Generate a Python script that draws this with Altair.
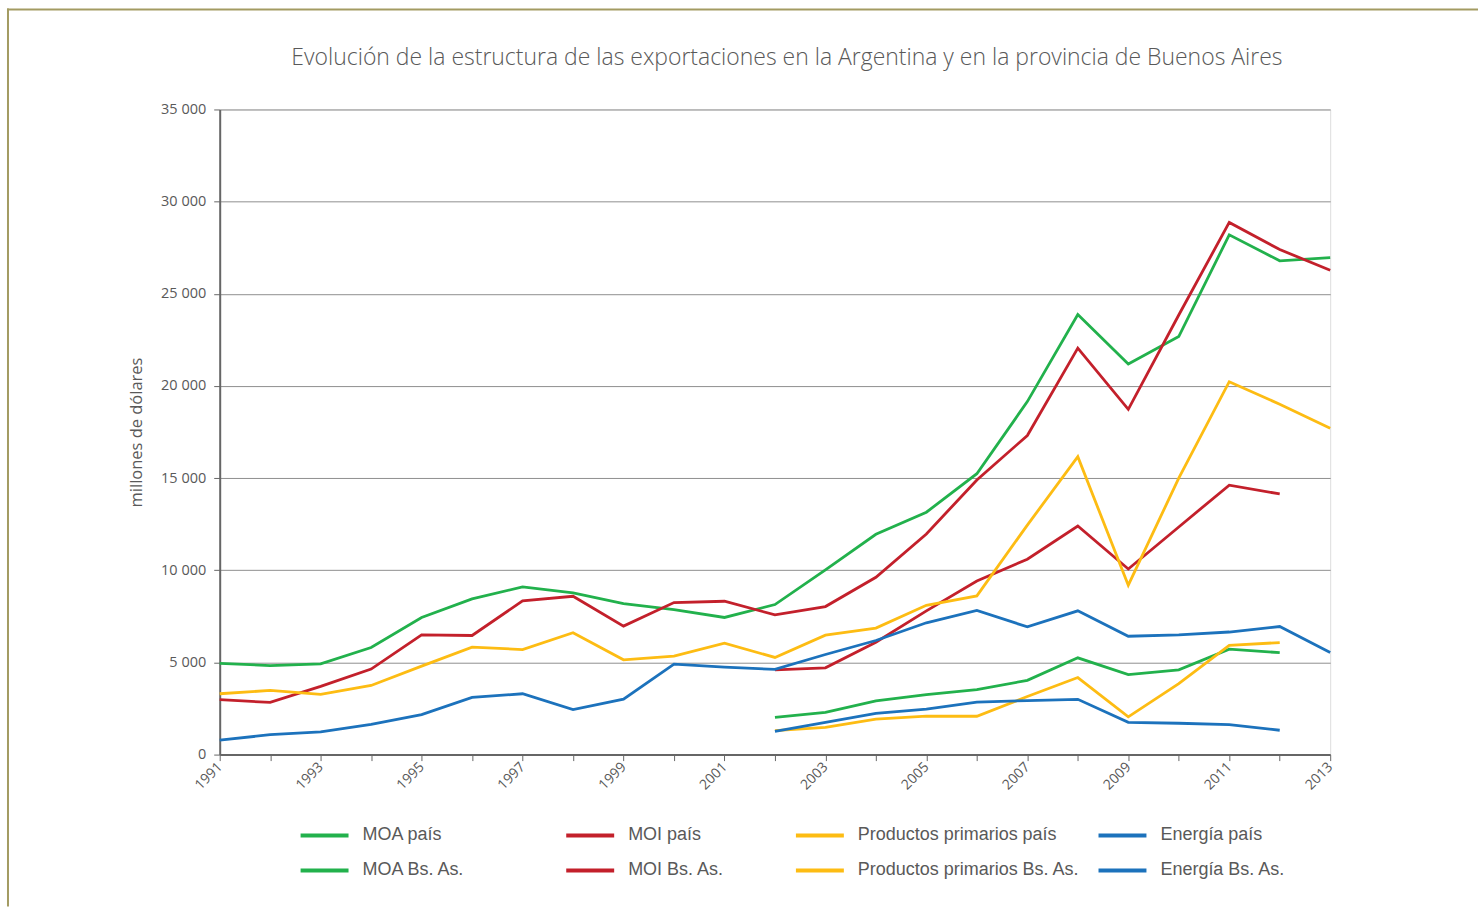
import altair as alt
import pandas as pd

# Export values, millions of US dollars
years = list(range(1991, 2014))

moa_pais = [4950, 4830, 4920, 5810, 7440, 8450, 9100, 8770, 8190, 7870, 7440, 8140,
            10020, 11950, 13150, 15240, 19150, 23880, 21190, 22680, 28200, 26790, 26960]
moi_pais = [2980, 2830, 3700, 4640, 6500, 6460, 8340, 8590, 6970, 8250, 8320, 7580,
            8030, 9620, 11970, 14900, 17310, 22050, 18730, 23850, 28870, 27400, 26280]
pp_pais = [3300, 3480, 3270, 3750, 4800, 5830, 5700, 6610, 5140, 5340, 6050, 5270,
           6480, 6860, 8100, 8610, 12450, 16160, 9190, 15000, 20230, 19010, 17700]
energia_pais = [780, 1080, 1230, 1640, 2170, 3100, 3300, 2440, 3010, 4910, 4750, 4620,
                5430, 6190, 7150, 7820, 6930, 7800, 6420, 6500, 6650, 6950, 5540]

# Buenos Aires province series start in 2002 and end in 2012
pba_years = list(range(2002, 2013))
moa_ba = [2020, 2290, 2910, 3250, 3520, 4030, 5250, 4340, 4600, 5720, 5530]
moi_ba = [4600, 4710, 6100, 7800, 9420, 10600, 12400, 10070, 12350, 14620, 14140]
pp_ba = [1300, 1480, 1930, 2090, 2080, 3150, 4180, 2050, 3850, 5920, 6080]
energia_ba = [1260, 1750, 2240, 2470, 2850, 2930, 3000, 1750, 1700, 1630, 1320]

groups = ["MOA", "MOI", "Productos primarios", "Energía"]
group_colors = ["#22B14C", "#C3202B", "#FDBC13", "#1C72BC"]
group_pais = [moa_pais, moi_pais, pp_pais, energia_pais]
group_ba = [moa_ba, moi_ba, pp_ba, energia_ba]
# left edge of each legend column, relative to the plot area
legend_x = [79, 345, 575, 878]

TEXT = "#595959"

x_enc = alt.X(
    "anio:Q",
    scale=alt.Scale(domain=[1991, 2013], nice=False, zero=False),
    axis=alt.Axis(
        title=None,
        values=years,
        labelExpr="datum.value % 2 == 1 ? datum.value : ''",
        labelAngle=315,
        labelAlign="right",
        labelBaseline="middle",
        labelFont="Open Sans",
        labelFontSize=14,
        labelColor=TEXT,
        labelPadding=4,
        tickSize=6,
        tickColor="#666666",
        domainColor="#666666",
        domainWidth=2,
        grid=False,
        labelOverlap=False,
    ),
)

y_enc = alt.Y(
    "valor:Q",
    scale=alt.Scale(domain=[0, 35000], nice=False),
    axis=alt.Axis(
        title="millones de dólares",
        titleFont="Open Sans",
        titleFontSize=16.5,
        titleFontWeight="normal",
        titleColor=TEXT,
        titlePadding=16,
        values=[0, 5000, 10000, 15000, 20000, 25000, 30000, 35000],
        labelExpr="replace(format(datum.value, ','), ',', ' ')",
        labelFont="Open Sans",
        labelFontSize=14.5,
        labelColor=TEXT,
        labelPadding=8,
        tickSize=6,
        tickColor="#666666",
        domainColor="#666666",
        domainWidth=2,
        gridColor="#8F8F8F",
        gridWidth=1,
    ),
)

# One line layer per product group, each with its own legend column
layers = []
for i, (grp, col) in enumerate(zip(groups, group_colors)):
    name_p = f"{grp} país"
    name_b = f"{grp} Bs. As."
    rows = [{"serie": name_p, "anio": y, "valor": v} for y, v in zip(years, group_pais[i])]
    rows += [{"serie": name_b, "anio": y, "valor": v} for y, v in zip(pba_years, group_ba[i])]
    layer = alt.Chart(pd.DataFrame(rows)).mark_line(strokeWidth=2.8).encode(
        x=x_enc,
        y=y_enc,
        color=alt.Color(
            "serie:N",
            scale=alt.Scale(domain=[name_p, name_b], range=[col, col]),
            legend=alt.Legend(
                title=None,
                orient="none",
                legendX=legend_x[i],
                legendY=701,
                direction="vertical",
                padding=0,
                rowPadding=-17,
                symbolType="stroke",
                symbolSize=2304,
                symbolStrokeWidth=4,
                labelOffset=12,
                labelFont="Liberation Sans",
                labelFontSize=18,
                labelColor=TEXT,
                labelLimit=400,
            ),
        ),
        detail="serie:N",
    )
    layers.append(layer)

# Page frame: top and left edge lines
frame_src = alt.Chart(pd.DataFrame({"k": [0]}))
frame_top = frame_src.mark_rule(color="#A39B62", strokeWidth=2, strokeCap="square").encode(
    x=alt.value(-212), x2=alt.value(1259), y=alt.value(-100)
)
frame_left = frame_src.mark_rule(color="#A39B62", strokeWidth=2, strokeCap="square").encode(
    x=alt.value(-212), y=alt.value(-100), y2=alt.value(797)
)

chart = alt.layer(frame_top, frame_left, *layers).resolve_scale(
    color="independent"
).properties(
    width=1112,
    height=646,
    padding={"left": 6, "top": 7, "right": 0, "bottom": 0},
    title=alt.TitleParams(
        "Evolución de la estructura de las exportaciones en la Argentina y en la provincia de Buenos Aires",
        font="Open Sans",
        fontSize=23,
        fontWeight=300,
        color=TEXT,
        anchor="middle",
        offset=0,
        dy=62,
        dx=12,
    ),
).configure_view(
    stroke="#999999", strokeWidth=2
).configure(background="white")

chart.save("out.html", embed_options={"renderer": "svg", "actions": False})
